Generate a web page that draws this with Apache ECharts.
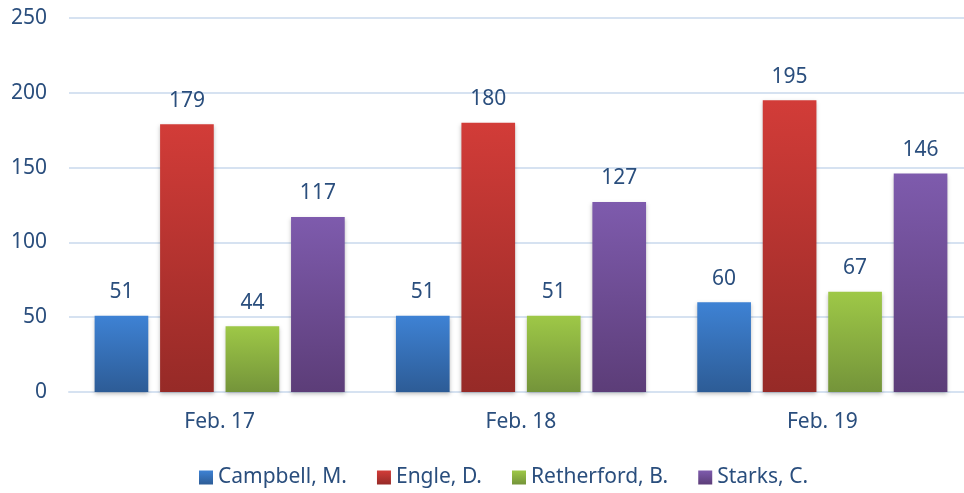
<!DOCTYPE html>
<html>
<head>
<meta charset="utf-8">
<script src="https://cdn.jsdelivr.net/npm/echarts@6/dist/echarts.min.js"></script>
<style>
  html, body { margin: 0; padding: 0; background: #fff; overflow: hidden; }
  /* the original plot runs a little past the right edge of the picture */
  #chart { width: 973px; height: 493px; }
</style>
</head>
<body>
<div id="chart"></div>
<script>
var dates = ['Feb. 17', 'Feb. 18', 'Feb. 19']
var names = ['Campbell, M.', 'Engle, D.', 'Retherford, B.', 'Starks, C.']
var campbell = [51, 51, 60]
var engle = [179, 180, 195]
var retherford = [44, 51, 67]
var starks = [117, 127, 146]
var yTicks = [0, 50, 100, 150, 200, 250]

var textColor = '#2a4e7d'
var font = 'Noto Sans'

// top / bottom colours of each bar gradient
var shades = [
  ['#3e82d4', '#2d5c96'],
  ['#d23c38', '#962a27'],
  ['#9ec847', '#74943a'],
  ['#7e5bad', '#5c3d78']
]

function grad (c) {
  return new echarts.graphic.LinearGradient(0, 0, 0, 1, [
    { offset: 0, color: c[0] },
    { offset: 1, color: c[1] }
  ])
}

var values = [campbell, engle, retherford, starks]
var series = names.map(function (n, i) {
  return {
    name: n,
    type: 'bar',
    data: values[i],
    barGap: '22%',
    barCategoryGap: '17%',
    itemStyle: {
      color: grad(shades[i]),
      shadowColor: 'rgba(0,0,0,0.25)',
      shadowBlur: 4,
      shadowOffsetY: 2
    },
    label: {
      show: true,
      position: 'top',
      distance: 13,
      color: textColor,
      fontFamily: font,
      fontSize: 21
    }
  }
})

var chart = echarts.init(document.getElementById('chart'))
chart.setOption({
  animation: false,
  legend: {
    bottom: 0,
    left: 194,
    itemWidth: 14,
    itemHeight: 14,
    itemGap: 30,
    icon: 'rect',
    textStyle: { color: textColor, fontFamily: font, fontSize: 21 },
    data: names.map(function (n, i) {
      return { name: n, itemStyle: { color: grad(shades[i]) } }
    })
  },
  grid: { left: 69, top: 18, right: 0, bottom: 101, containLabel: false },
  xAxis: {
    type: 'category',
    data: dates,
    axisLine: { lineStyle: { color: '#d6e2f1', width: 2 } },
    axisTick: { show: false },
    axisLabel: { color: textColor, fontFamily: font, fontSize: 21, margin: 20 }
  },
  yAxis: {
    type: 'value',
    min: yTicks[0],
    max: yTicks[yTicks.length - 1],
    interval: 50,
    axisLine: { show: false },
    axisTick: { show: false },
    splitLine: { lineStyle: { color: '#d6e2f1', width: 2 } },
    axisLabel: { color: textColor, fontFamily: font, fontSize: 21, margin: 22 }
  },
  series: series
})
</script>
</body>
</html>
